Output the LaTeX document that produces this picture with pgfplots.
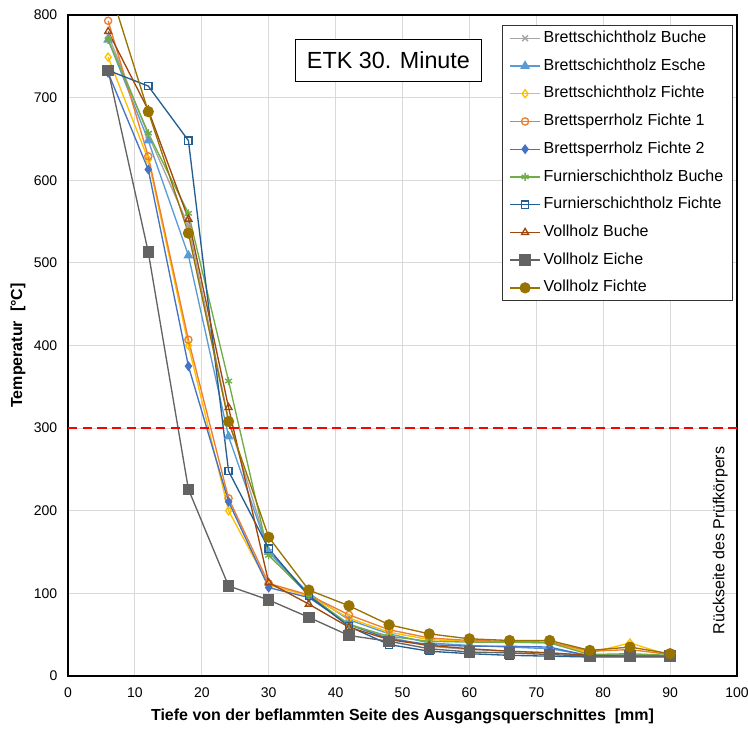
\documentclass[border=0pt]{standalone}
\usepackage{pgfplots}
\pgfplotsset{compat=1.18}
\usepackage{fontspec}
\setmainfont{Liberation Sans}
\definecolor{cBuG}{HTML}{A5A5A5}
\definecolor{cEs}{HTML}{5B9BD5}
\definecolor{cFiY}{HTML}{FFC000}
\definecolor{cOr}{HTML}{ED7D31}
\definecolor{cBl}{HTML}{4472C4}
\definecolor{cGr}{HTML}{70AD47}
\definecolor{cFuF}{HTML}{255E91}
\definecolor{cVB}{HTML}{9E480E}
\definecolor{cVE}{HTML}{636363}
\definecolor{cVF}{HTML}{997300}
\begin{document}
\begin{tikzpicture}
\begin{axis}[
  at={(0,0)}, anchor=south west,
  scale only axis,
  width=501.75pt, height=495.75pt,
  xmin=0, xmax=100, ymin=0, ymax=800,
  xtick={0,10,...,100}, ytick={0,100,...,800},
  grid=major,
  major grid style={draw=black!15, line width=0.7pt},
  tick style={draw=none},
  axis line style={black, line width=0.8pt},
  /pgf/number format/assume math mode=true,
  ticklabel style={font=\fontsize{10.5}{12}\selectfont},
  yticklabel style={xshift=-4.5pt},
  xticklabel style={yshift=-5pt},
  xlabel={\bfseries Tiefe von der beflammten Seite des Ausgangsquerschnittes\ \ [mm]},
  ylabel={\bfseries Temperatur\ \ [°C]},
  label style={font=\fontsize{12}{14}\selectfont},
  xlabel style={at={(axis description cs:0.5,-0.0613)}, anchor=center},
  ylabel style={at={(axis description cs:-0.0747,0.5)}, anchor=center},
  every axis plot/.append style={line width=1pt},
  legend cell align=left,
  legend style={at={(0.994,0.985)}, anchor=north east, draw=black!80, line width=0.6pt,
    font=\fontsize{12}{14}\selectfont, row sep=5.4pt, inner xsep=5pt,
    nodes={inner sep=2pt, text height=8.8pt, text depth=2.6pt}},
  legend image code/.code={\draw[mark repeat=2,mark phase=2] plot coordinates {(0cm,0cm)(0.4cm,0cm)(0.8cm,0cm)};},
]
\addplot[cBuG, mark=x, mark size=3pt] coordinates {(6,776)(12,655)(18,545)(24,310)(30,150)(36,97)(42,63)(48,47)(54,36)(60,32)(66,30)(72,28)(78,25)(84,26)(90,24)};
\addlegendentry{Brettschichtholz Buche}
\addplot[cEs, mark=triangle*, mark size=3.3pt] coordinates {(6,770)(12,648)(18,509)(24,290)(30,150)(36,100)(42,68)(48,51)(54,40)(60,37)(66,35)(72,33)(78,25)(84,25)(90,24)};
\addlegendentry{Brettschichtholz Esche}
\addplot[cFiY, mark=diamond, mark size=3pt, mark options={fill=white}] coordinates {(6,749)(12,625)(18,400)(24,200)(30,110)(36,97)(42,70)(48,53)(54,44)(60,42)(66,41)(72,40)(78,28)(84,40)(90,25)};
\addlegendentry{Brettschichtholz Fichte}
\addplot[cOr, mark=o, mark size=2.7pt, mark options={fill=white}] coordinates {(6,793)(12,629)(18,407)(24,215)(30,112)(36,98)(42,74)(48,56)(54,46)(60,43)(66,42)(72,41)(78,30)(84,32)(90,26)};
\addlegendentry{Brettsperrholz Fichte 1}
\addplot[cBl, mark=diamond*, mark size=3pt] coordinates {(6,730)(12,613)(18,375)(24,211)(30,107)(36,95)(42,62)(48,45)(54,38)(60,36)(66,36)(72,35)(78,24)(84,24)(90,24)};
\addlegendentry{Brettsperrholz Fichte 2}
\addplot[cGr, mark=asterisk, mark size=3pt] coordinates {(6,770)(12,657)(18,560)(24,357)(30,146)(36,98)(42,62)(48,48)(54,42)(60,41)(66,41)(72,40)(78,26)(84,27)(90,25)};
\addlegendentry{Furnierschichtholz Buche}
\addplot[cFuF, mark=square, mark size=2.7pt, mark options={fill=white}] coordinates {(6,733)(12,714)(18,648)(24,248)(30,154)(36,97)(42,60)(48,38)(54,30)(60,27)(66,25)(72,24)(78,23)(84,23)(90,23)};
\addlegendentry{Furnierschichtholz Fichte}
\addplot[cVB, mark=triangle, mark size=3pt, mark options={fill=white}] coordinates {(6,780)(12,685)(18,553)(24,325)(30,113)(36,87)(42,59)(48,44)(54,37)(60,33)(66,30)(72,28)(78,25)(84,24)(90,24)};
\addlegendentry{Vollholz Buche}
\addplot[cVE, mark=square*, mark size=3.8pt] coordinates {(6,733)(12,513)(18,226)(24,109)(30,92)(36,71)(42,49)(48,42)(54,33)(60,29)(66,28)(72,26)(78,24)(84,24)(90,24)};
\addlegendentry{Vollholz Eiche}
\addplot[cVF, mark=*, mark size=3.7pt] coordinates {(6,838)(12,683)(18,536)(24,308)(30,168)(36,104)(42,85)(48,62)(54,51)(60,45)(66,43)(72,43)(78,31)(84,35)(90,27)};
\addlegendentry{Vollholz Fichte}
\addplot[red, line width=1.5pt, dash pattern=on 7pt off 4pt, forget plot] coordinates {(0,300)(100,300)};
\node[draw=black, line width=0.8pt, fill=white, minimum width=140pt, minimum height=31pt, inner sep=0pt, font=\fontsize{17.5}{20}\selectfont] at (axis cs:47.9,745) {ETK 30. Minute};
\node[rotate=90, font=\fontsize{12}{14}\selectfont] at (axis cs:97.5,164) {Rückseite des Prüfkörpers};
\end{axis}
\pgfresetboundingbox
\useasboundingbox (-51pt,-40.8pt) rectangle (510pt,507pt);
\end{tikzpicture}
\end{document}
